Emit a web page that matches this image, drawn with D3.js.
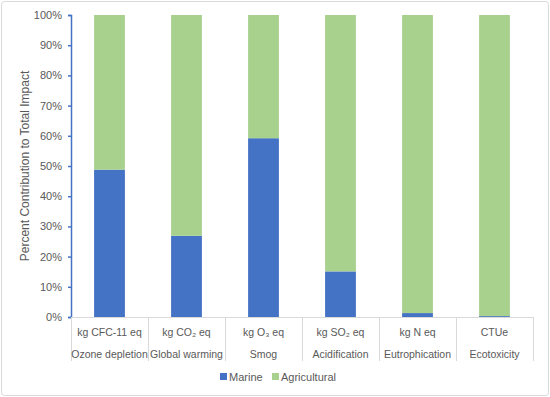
<!DOCTYPE html>
<html>
<head>
<meta charset="utf-8">
<script src="https://cdn.jsdelivr.net/npm/d3@7"></script>
<style>
  body { margin: 0; background: #fff; }
  svg { font-family: "Liberation Sans", Arial, sans-serif; }
  .tick text { fill: #595959; font-size: 11px; }
</style>
</head>
<body>
<div id="chart"></div>
<script>
    // data
    let units = ["kg CFC-11 eq", "kg CO\u2082 eq", "kg O\u2083 eq", "kg SO\u2082 eq", "kg N eq", "CTUe"]
    let impacts = ["Ozone depletion", "Global warming", "Smog", "Acidification", "Eutrophication", "Ecotoxicity"]
    let marine = [48.8, 26.9, 59.2, 15.1, 1.3, 0.3]
    let agricultural = marine.map(v => 100 - v)
    let yTicks = [0, 10, 20, 30, 40, 50, 60, 70, 80, 90, 100]

    let width = 550
    let height = 397
    let plotLeft = 71, plotRight = 533, plotTop = 15, plotBottom = 317

    let svg = d3.select("#chart")
        .append("svg")
        .attr("width", width)
        .attr("height", height)

    svg.append("rect")
        .attr("x", 1.5).attr("y", 1.5)
        .attr("width", width - 3).attr("height", height - 3)
        .attr("rx", 3)
        .style("fill", "#fff")
        .style("stroke", "#d9d9d9")

    let x = d3.scaleBand()
        .domain(impacts)
        .range([plotLeft, plotRight])
        .paddingInner(0.6)
        .paddingOuter(0.3)

    let y = d3.scaleLinear()
        .domain([0, 100])
        .range([plotBottom, plotTop])

    let data = impacts.map((d, i) => ({ name: d, unit: units[i], Marine: marine[i], Agricultural: agricultural[i] }))
    let stack = d3.stack().keys(["Marine", "Agricultural"])(data)

    let colors = d3.scaleOrdinal()
        .domain(["Marine", "Agricultural"])
        .range(["#4472C4", "#A9D18E"])

    svg.append("g")
        .selectAll("g")
        .data(stack)
        .enter()
        .append("g")
        .style("fill", d => colors(d.key))
        .selectAll("rect")
        .data(d => d)
        .enter()
        .append("rect")
        .attr("x", d => x(d.data.name))
        .attr("width", x.bandwidth())
        .attr("y", d => y(d[1]))
        .attr("height", d => y(d[0]) - y(d[1]))

    // y axis
    let yAxis = d3.axisLeft(y)
        .tickValues(yTicks)
        .tickFormat(d => d + "%")
        .tickSize(3)
        .tickPadding(6)

    let ya = svg.append("g")
        .attr("class", "y axis")
        .attr("transform", "translate(" + plotLeft + ",0)")
        .call(yAxis)
    ya.select(".domain").style("stroke", "#4472C4").style("stroke-width", 1.5)
    ya.selectAll(".tick line").style("stroke", "#4472C4").style("stroke-width", 1.5)

    // category grid below the axis
    let step = (plotRight - plotLeft) / impacts.length
    let cat = svg.append("g").attr("class", "x axis")
    cat.append("line")
        .attr("x1", plotLeft).attr("x2", plotRight)
        .attr("y1", plotBottom + 0.5).attr("y2", plotBottom + 0.5)
        .style("stroke", "#d9d9d9")
    cat.selectAll(".div")
        .data(d3.range(impacts.length + 1))
        .enter()
        .append("line")
        .attr("x1", i => plotLeft + i * step + 0.5)
        .attr("x2", i => plotLeft + i * step + 0.5)
        .attr("y1", plotBottom)
        .attr("y2", 361)
        .style("stroke", "#d9d9d9")

    cat.selectAll(".unit")
        .data(data)
        .enter()
        .append("text")
        .attr("x", d => x(d.name) + x.bandwidth() / 2)
        .attr("y", 336)
        .attr("text-anchor", "middle")
        .style("font-size", "10.5px")
        .style("fill", "#595959")
        .text(d => d.unit)

    cat.selectAll(".impact")
        .data(data)
        .enter()
        .append("text")
        .attr("x", d => x(d.name) + x.bandwidth() / 2)
        .attr("y", 358)
        .attr("text-anchor", "middle")
        .style("font-size", "10.5px")
        .style("fill", "#595959")
        .text(d => d.name)

    svg.append("text")
        .attr("transform", "rotate(-90)")
        .attr("x", -(plotTop + plotBottom) / 2)
        .attr("y", 29)
        .attr("text-anchor", "middle")
        .style("font-size", "12px")
        .style("fill", "#595959")
        .text("Percent Contribution to Total Impact")

    // legend
    let legend = svg.append("g")
        .selectAll("g")
        .data([["Marine", 220], ["Agricultural", 272]])
        .enter()
        .append("g")
        .attr("transform", d => "translate(" + d[1] + ",373)")
    legend.append("rect")
        .attr("width", 7).attr("height", 7)
        .style("fill", d => colors(d[0]))
    legend.append("text")
        .attr("x", 9).attr("y", 8)
        .style("font-size", "11px")
        .style("fill", "#595959")
        .text(d => d[0])
</script>
</body>
</html>
